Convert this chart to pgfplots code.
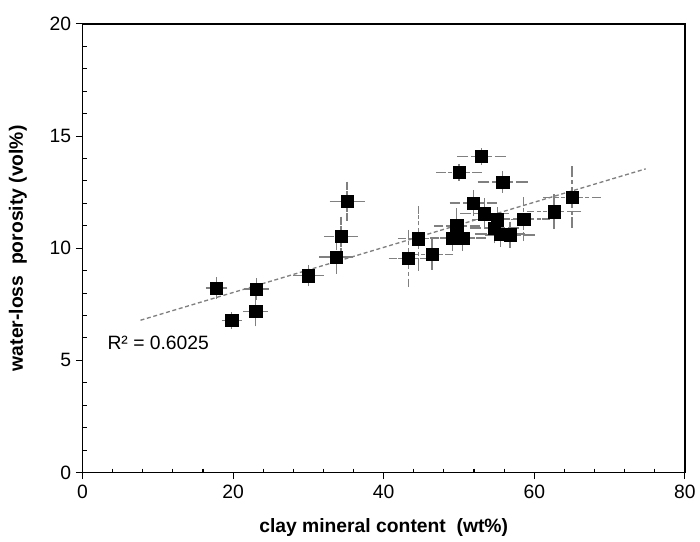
\documentclass[border=0pt]{standalone}
\usepackage{pgfplots}
\pgfplotsset{compat=1.18}
\usepackage{pgfplotstable}
\usepackage{fontspec}
\setmainfont{Liberation Sans}
\definecolor{errgray}{RGB}{128,128,128}
\pgfplotstableread{
x y ex ey
17.8 8.23 0.9 0.3
19.8 6.79 0.8 0.2
23.1 8.19 1.1 0.3
23.0 7.19 1.1 0.5
30.0 8.78 1.5 0.3
33.7 9.61 1.7 0.58
34.35 10.53 1.7 0.7
35.15 12.09 1.8 0.7
43.3 9.54 2.1 1.1
44.6 10.43 2.2 1.26
46.4 9.72 2.3 0.5
53.0 14.09 2.7 0.2
50.0 13.38 2.5 0.2
55.8 12.95 2.8 0.3
51.9 12.02 2.6 0.4
53.4 11.54 2.7 0.5
49.7 11.0 2.5 0.6
55.1 11.27 2.8 0.4
54.7 10.9 2.7 0.5
49.15 10.46 2.5 0.4
50.5 10.46 2.5 0.4
55.5 10.64 2.8 0.4
56.8 10.6 2.8 0.4
58.6 11.3 2.9 0.8
62.6 11.63 3.1 0.6
65.0 12.27 3.3 1.2
}\datatable
\begin{document}
\begin{tikzpicture}
\begin{axis}[
  scale only axis,
  width=452.5pt, height=337pt,
  xmin=0, xmax=80, ymin=0, ymax=20,
  xtick={0,20,...,80}, ytick={0,5,...,20},
  minor x tick num=4, minor y tick num=4,
  tick align=outside,
  major tick length=5pt,
  minor tick length=-3pt,
  xtick pos=bottom, ytick pos=left,
  axis line style={line width=1pt},
  every tick/.style={black, line width=0.8pt},
  tick label style={font=\fontsize{14.5}{17}\selectfont},
  xticklabel style={yshift=-1pt},
  /pgf/number format/assume math mode=true,
  xlabel={\textbf{clay mineral content\ \ (wt\%)}},
  ylabel={\textbf{water-loss\ \ porosity (vol\%)}},
  xlabel style={font=\fontsize{14.5}{17}\selectfont, at={(axis description cs:0.5,-0.1217)}, anchor=center},
  ylabel style={font=\fontsize{14.5}{17}\selectfont, at={(axis description cs:-0.1072,0.5)}, anchor=center},
  clip=false,
]
\addplot[errgray, line width=1pt, dash pattern=on 3pt off 2pt] coordinates {(7.7,6.79) (74.8,13.54)};
\addplot[only marks, mark=square*, mark size=4.6pt, mark options={fill=black, draw=black, line width=0.3pt, solid},
  error bars/.cd, x dir=both, x explicit, y dir=both, y explicit,
  error bar style={errgray, line width=1.1pt, dash pattern=on 3pt off 2pt},
  error mark options={errgray, line width=1.1pt, solid, mark size=3pt}]
  table[x=x, y=y, x error=ex, y error=ey] {\datatable};
\node[anchor=west, font=\fontsize{14.5}{17}\selectfont] at (axis cs:2.7,5.8) {R² = 0.6025};
\end{axis}
\path (current axis.south west) ++(-62pt,-51.5pt) coordinate (bbA);
\path (current axis.north east) ++(10.5pt,18pt) coordinate (bbB);
\path (bbA) rectangle (bbB);
\end{tikzpicture}
\end{document}
